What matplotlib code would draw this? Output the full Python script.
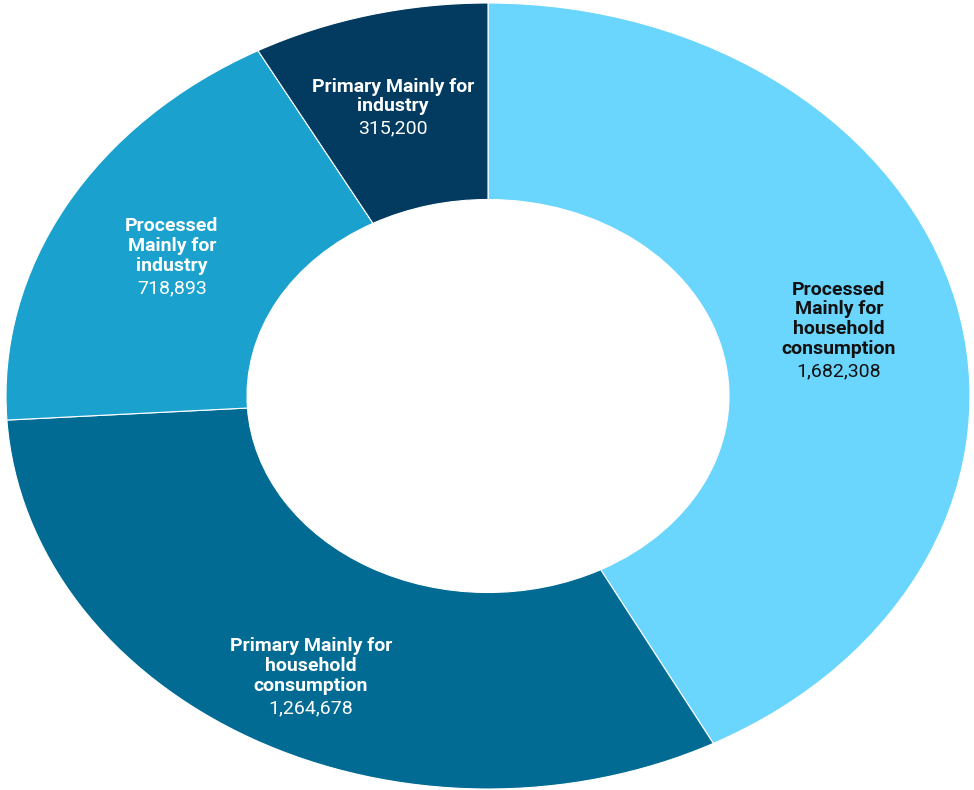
import matplotlib.pyplot as plt
import numpy as np

categorias = ["Processed\nMainly for\nhousehold\nconsumption",
              "Primary Mainly for\nhousehold\nconsumption",
              "Processed\nMainly for\nindustry",
              "Primary Mainly for\nindustry"]
valores = [1682308, 1264678, 718893, 315200]
colores = ["#6AD5FD", "#016B94", "#1BA1CD", "#023A60"]
color_texto = ["#111111", "white", "white", "white"]
# small nudges (pixels) for the label blocks
ajuste_y = [0, -20, 0, 6]
ajuste_x = [0, 0, 0, -6]

plt.rcParams["font.family"] = ["Roboto", "DejaVu Sans"]

fig = plt.figure(figsize=(9.74, 7.9), dpi=100)
ax = fig.add_axes([6 / 974, 1 / 790, 964 / 974, 786 / 790])

wedges, _ = ax.pie(valores, colors=colores, startangle=90, counterclock=False,
                   radius=1, wedgeprops=dict(width=0.5, edgecolor="white", linewidth=0.8))
ax.set_aspect("auto")
ax.set_xlim(-1, 1)
ax.set_ylim(-1, 1)
ax.axis("off")

total = sum(valores)
inicio = 90.0
paso = 22  # line pitch in pixels
for i, v in enumerate(valores):
    ang = inicio - v / total * 360 / 2
    inicio -= v / total * 360
    x = 0.75 * np.cos(np.radians(ang))
    y = 0.75 * np.sin(np.radians(ang))
    n = categorias[i].count("\n") + 1
    N = n + 1
    base = -N / 2 * paso + ajuste_y[i]
    ax.annotate(categorias[i], (x, y), xytext=(ajuste_x[i], base + paso),
                textcoords="offset pixels", ha="center", va="bottom",
                multialignment="center", fontsize=14, fontweight="bold",
                color=color_texto[i], linespacing=1.13)
    ax.annotate(f"{v:,}", (x, y), xytext=(ajuste_x[i], base),
                textcoords="offset pixels", ha="center", va="bottom",
                fontsize=14, color=color_texto[i])

plt.savefig("out.png", dpi=100)
